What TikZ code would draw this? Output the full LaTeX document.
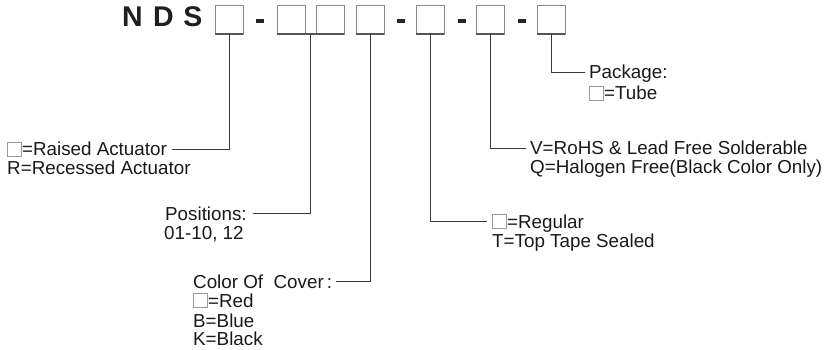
\documentclass[tikz,border=0pt]{standalone}
\usepackage{fontspec}
\setmainfont{Liberation Sans}
\usetikzlibrary{calc}
\definecolor{boxgray}{HTML}{8A8A8A}
\definecolor{boxdark}{HTML}{555555}
\definecolor{linegray}{HTML}{3A3A3A}
\definecolor{sqc}{HTML}{9A9A9A}
\newcommand{\sqbox}{{\color{sqc}\setlength\fboxrule{0.7pt}\setlength\fboxsep{0pt}\fbox{\rule{0pt}{13pt}\hspace{13.5pt}}}}
\tikzset{
  slot/.style={draw=boxgray, line width=0.8pt, minimum width=28pt, minimum height=29pt, inner sep=0pt},
  slotbottom/.style={draw=boxdark, line width=1.8pt},
  dashbar/.style={fill=black!85, draw=none, minimum width=8pt, minimum height=4pt, inner sep=0pt},
  big/.style={font=\fontsize{28.5}{30}\selectfont\bfseries, text=black!88, anchor=base, inner sep=0pt},
  lbl/.style={font=\fontsize{18.8}{20}\selectfont, text=black!90, anchor=base west, inner sep=0pt, text height=13.2pt, text depth=0pt},
  conn/.style={draw=linegray, line width=0.9pt}
}
\begin{document}
\begin{tikzpicture}[x=1pt, y=-1pt]
\useasboundingbox (0,0) rectangle (825,350);
% title letters
\node[big] (tn) at (132.5,27) {N};
\node[big] (td) at (163.5,27) {D};
\node[big] (ts) at (193,27) {S};
% slots
\node[slot] (b1) at (229,19.5) {};
\node[slot] (b2) at (291,19.5) {};
\node[slot] (b3) at (330,19.5) {};
\node[slot] (b4) at (370,19.5) {};
\node[slot] (b5) at (430,19.5) {};
\node[slot] (b6) at (490,19.5) {};
\node[slot] (b7) at (551,19.5) {};
\draw[slotbottom] (b1.south west) -- (b1.south east);
\draw[slotbottom] (b2.south west) -- (b3.south east);
\draw[slotbottom] (b4.south west) -- (b4.south east);
\draw[slotbottom] (b5.south west) -- (b5.south east);
\draw[slotbottom] (b6.south west) -- (b6.south east);
\draw[slotbottom] (b7.south west) -- (b7.south east);
% dashes
\node[dashbar] (d1) at (260,21.5) {};
\node[dashbar] (d2) at (401,21.5) {};
\node[dashbar] (d3) at (461.5,21.5) {};
\node[dashbar] (d4) at (521.5,21.5) {};
% labels
\node[lbl] (raised) at (7,156) {\sqbox=Raised Actuator};
\node[lbl] (recessed) at (7,175) {R=Recessed Actuator};
\node[lbl] (positions) at (165,220) {Positions:};
\node[lbl] (range) at (164,240) {01-10, 12};
\node[lbl] (color) at (193,288) {Color Of\ \ Cover\,:};
\node[lbl] (red) at (193,307) {\sqbox=Red};
\node[lbl] (blue) at (193,327) {B=Blue};
\node[lbl] (black) at (193,345.5) {K=Black};
\node[lbl] (regular) at (492,228) {\sqbox=Regular};
\node[lbl] (tape) at (492,247) {T=Top Tape Sealed};
\node[lbl] (rohs) at (530,155) {V=RoHS \& Lead Free Solderable};
\node[lbl] (halogen) at (530,174) {Q=Halogen Free(Black Color Only)};
\node[lbl] (package) at (589,79) {Package:};
\node[lbl] (tube) at (589,100) {\sqbox=Tube};
% connectors
\coordinate (j23) at ($(b2.south east)!0.5!(b3.south west)$);
\draw[conn] (b1.south) |- ([xshift=5pt]raised.east);
\draw[conn] (j23) |- ([xshift=6pt]positions.east);
\draw[conn] (b4.south) |- ([xshift=4pt]color.east);
\draw[conn] (b5.south) |- ([xshift=-5pt]regular.west);
\draw[conn] (b6.south) |- ([xshift=-4pt]rohs.west);
\draw[conn] (b7.south) |- ([xshift=-4pt]package.west);
\end{tikzpicture}
\end{document}
